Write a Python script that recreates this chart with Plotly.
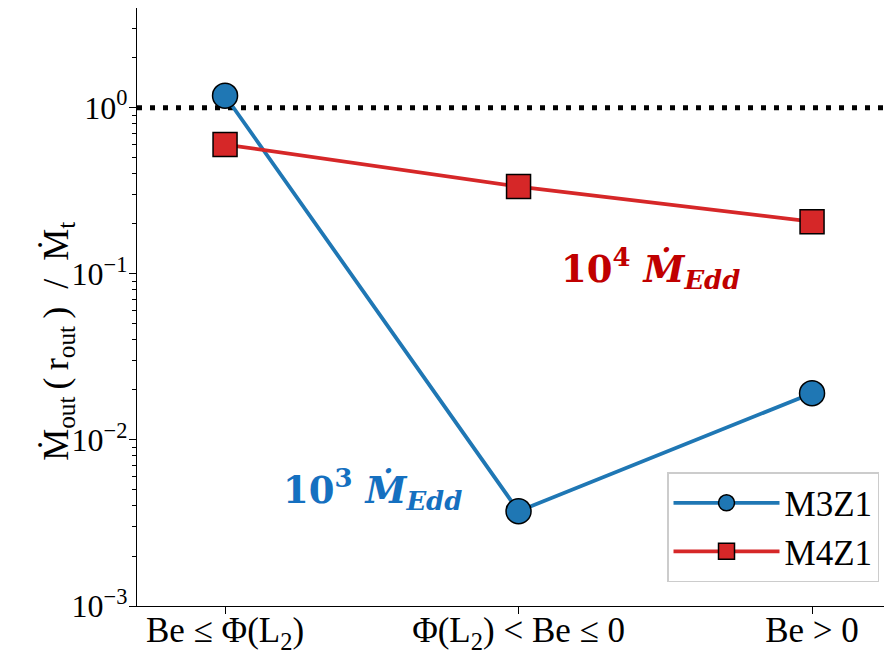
import plotly.graph_objects as go

categories = [0, 1, 2]
category_labels = ["Be ≤ Φ(L<sub>2</sub>)", "Φ(L<sub>2</sub>) &lt; Be ≤ 0", "Be &gt; 0"]
m3z1 = [1.18, 0.00372, 0.0191]
m4z1 = [0.60, 0.335, 0.206]
ref_level = 1.0
ytick_vals = [1e-3, 1e-2, 1e-1, 1e0]
ytick_text = ["10<sup>−3</sup>", "10<sup>−2</sup>", "10<sup>−1</sup>", "10<sup>0</sup>"]
minor_vals = [m * 10.0 ** e for e in (-3, -2, -1, 0) for m in range(2, 10)]

SERIF = "Liberation Serif, DejaVu Serif, serif"
fig = go.Figure()

fig.add_trace(go.Scatter(
    x=[-0.3, 2.3], y=[ref_level, ref_level], mode="lines",
    line=dict(color="black", width=5, dash="5px,8px"), showlegend=False, hoverinfo="skip"))

fig.add_trace(go.Scatter(
    x=categories, y=m3z1, mode="lines+markers", name="M3Z1",
    line=dict(color="#1f77b4", width=3.8),
    marker=dict(symbol="circle", size=25, color="#1f77b4", line=dict(color="black", width=1.5))))

fig.add_trace(go.Scatter(
    x=categories, y=m4z1, mode="lines+markers", name="M4Z1",
    line=dict(color="#d62728", width=3.8),
    marker=dict(symbol="square", size=24, color="#d62728", line=dict(color="black", width=1.5))))

fig.add_annotation(x=0.504, y=-2.30, xref="x", yref="y",
    text="<b>10<sup>3</sup> <i>M\u0307<sub>Edd</sub></i></b>", showarrow=False,
    font=dict(family="DejaVu Serif, serif", size=37, color="#1570C0"))
fig.add_annotation(x=1.451, y=-0.97, xref="x", yref="y",
    text="<b>10<sup>4</sup> <i>M\u0307<sub>Edd</sub></i></b>", showarrow=False,
    font=dict(family="DejaVu Serif, serif", size=37, color="#C00000"))

ylabel = ("M\u0307<sub>out</sub>\u2009(\u2009r<sub>out</sub>\u2009)\u2002/\u2002M\u0307<sub>t</sub>")
fig.add_annotation(x=-0.105, y=0.443, xref="paper", yref="paper", textangle=-90,
    xanchor="center", yanchor="middle",
    text=ylabel, showarrow=False,
    font=dict(family=SERIF, size=36, color="black"))

fig.update_layout(
    width=884, height=647,
    margin=dict(l=129, r=0, t=0, b=49, autoexpand=False),
    plot_bgcolor="white", paper_bgcolor="white",
    font=dict(family=SERIF, size=22, color="black"),
    legend=dict(x=0.702, y=0.224, xanchor="left", yanchor="top",
                bgcolor="white", bordercolor="#cccccc", borderwidth=1.5,
                font=dict(family=SERIF, size=35), itemwidth=106),
    xaxis=dict(range=[-0.3, 2.2724], tickvals=categories, ticktext=category_labels,
               showline=True, linecolor="black", linewidth=1.3, mirror=True,
               ticks="outside", ticklen=7, tickcolor="black", showgrid=False,
               zeroline=False, tickfont=dict(family=SERIF, size=35),
               ticklabelstandoff=-14, automargin=False),
    yaxis=dict(type="log", range=[-3, 0.6], tickvals=ytick_vals, ticktext=ytick_text,
               showline=True, linecolor="black", linewidth=1.3,
               ticks="outside", ticklen=7, tickcolor="black", showgrid=False,
               zeroline=False, tickfont=dict(family=SERIF, size=32),
               ticklabelstandoff=-5, automargin=False,
               minor=dict(tickvals=minor_vals, ticks="outside", ticklen=4,
                          tickcolor="black", showgrid=False)),
)

fig.write_html("out.html")
